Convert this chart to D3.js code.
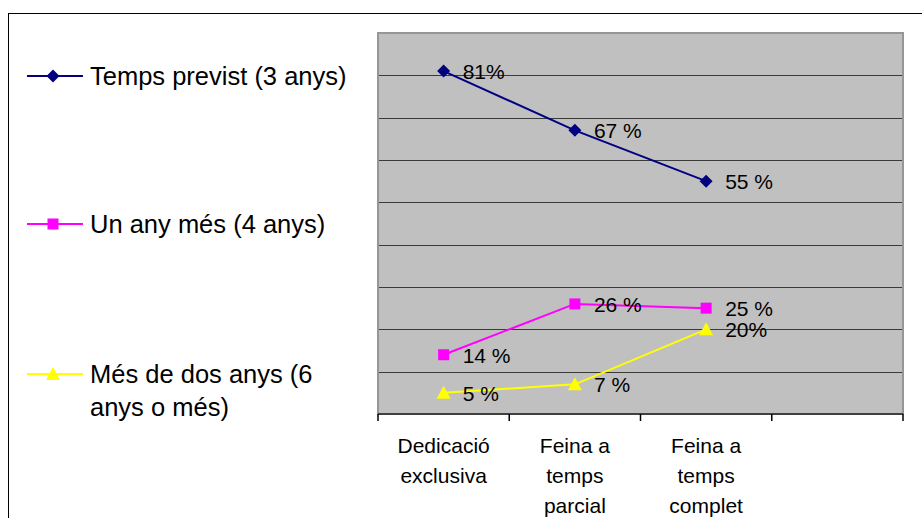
<!DOCTYPE html>
<html>
<head>
<meta charset="utf-8">
<script src="https://cdn.jsdelivr.net/npm/d3@7"></script>
<style>
  body { margin: 0; background: #fff; }
  svg { display: block; font-family: "Liberation Sans", Arial, sans-serif; }
</style>
</head>
<body>
<svg id="chart" width="922" height="518"></svg>
<script>
// categories on the x axis (the 4th slot is empty in the original)
var categories = ["Dedicació exclusiva", "Feina a temps parcial", "Feina a temps complet", ""];
var categoryLines = [["Dedicació", "exclusiva"], ["Feina a", "temps", "parcial"], ["Feina a", "temps", "complet"], []];

var seriesNames = ["Temps previst (3 anys)", "Un any més (4 anys)", "Més de dos anys (6 anys o més)"];
var seriesLegendLines = [["Temps previst (3 anys)"], ["Un any més (4 anys)"], ["Més de dos anys (6", "anys o més)"]];

var previst = [0.81, 0.67, 0.55];
var unAnyMes = [0.14, 0.26, 0.25];
var mesDeDos = [0.05, 0.07, 0.20];

var previstLabels = ["81%", "67 %", "55 %"];
var unAnyMesLabels = ["14 %", "26 %", "25 %"];
var mesDeDosLabels = ["5 %", "7 %", "20%"];

var yTicks = [0.1, 0.2, 0.3, 0.4, 0.5, 0.6, 0.7, 0.8];

var width = 922, height = 518;
var plot = {left: 378, right: 903, top: 33, bottom: 414};

var series = [
  {name: seriesNames[0], values: previst, labels: previstLabels, color: "#000080", marker: "diamond", legendY: 76},
  {name: seriesNames[1], values: unAnyMes, labels: unAnyMesLabels, color: "#ff00ff", marker: "square", legendY: 224},
  {name: seriesNames[2], values: mesDeDos, labels: mesDeDosLabels, color: "#ffff00", marker: "triangle", legendY: 374}
];
series.forEach((s, i) => s.legend = seriesLegendLines[i]);

const svg = d3.select("#chart");

const x = d3.scaleBand().domain(categories.map((c, i) => i)).range([plot.left, plot.right]);
const y = d3.scaleLinear().domain([0, 0.9]).range([plot.bottom, plot.top]);

// outer chart border (runs off the right and bottom of the picture)
svg.append("rect")
  .attr("x", 8.5).attr("y", 13.5)
  .attr("width", 1000).attr("height", 1000)
  .attr("fill", "none").attr("stroke", "#000").attr("stroke-width", 1);

// plot area
svg.append("rect")
  .attr("x", plot.left).attr("y", plot.top)
  .attr("width", plot.right - plot.left).attr("height", plot.bottom - plot.top)
  .attr("fill", "#c0c0c0").attr("stroke", "#969696").attr("stroke-width", 2);

svg.selectAll(".grid")
  .data(yTicks)
  .enter().append("line")
  .attr("class", "grid")
  .attr("x1", plot.left + 1).attr("x2", plot.right - 1)
  .attr("y1", d => Math.round(y(d)) + 0.5).attr("y2", d => Math.round(y(d)) + 0.5)
  .attr("stroke", "#3a3a3a").attr("stroke-width", 1.2);

// category axis
const xAxis = svg.append("g")
  .attr("transform", "translate(0," + plot.bottom + ")");
xAxis.append("line")
  .attr("x1", plot.left).attr("x2", plot.right)
  .attr("stroke", "#404040").attr("stroke-width", 2);
const tickPos = categories.map((c, i) => x(i)).concat([plot.right]);
xAxis.selectAll(".tick")
  .data(tickPos)
  .enter().append("line")
  .attr("x1", d => d).attr("x2", d => d)
  .attr("y1", 0).attr("y2", 7)
  .attr("stroke", "#000").attr("stroke-width", 1.5);

categoryLines.forEach(function (lines, i) {
  xAxis.append("text")
    .attr("text-anchor", "middle")
    .attr("font-size", 21)
    .attr("fill", "#000")
    .selectAll("tspan")
    .data(lines)
    .enter().append("tspan")
    .attr("x", x(i) + x.bandwidth() / 2)
    .attr("y", (d, j) => 39 + j * 30)
    .text(d => d);
});

// excel style markers
function markerPath(type) {
  if (type === "diamond") return "M0,-6.5L6.5,0L0,6.5L-6.5,0Z";
  if (type === "square") return "M-5.5,-5.5H5.5V5.5H-5.5Z";
  return "M0,-7L7,6L-7,6Z";
}

const line = d3.line()
  .x((d, i) => x(i) + x.bandwidth() / 2)
  .y(d => y(d));

series.forEach(function (s) {
  svg.append("path")
    .attr("d", line(s.values))
    .attr("fill", "none")
    .attr("stroke", s.color)
    .attr("stroke-width", 2);

  svg.selectAll(".m-" + s.marker)
    .data(s.values)
    .enter().append("path")
    .attr("class", "m-" + s.marker)
    .attr("transform", (d, i) => "translate(" + (x(i) + x.bandwidth() / 2) + "," + y(d) + ")")
    .attr("d", markerPath(s.marker))
    .attr("fill", s.color);

  svg.selectAll(".lbl-" + s.marker)
    .data(s.values)
    .enter().append("text")
    .attr("class", "lbl-" + s.marker)
    .attr("x", (d, i) => x(i) + x.bandwidth() / 2 + 19)
    .attr("y", d => y(d) + 8)
    .attr("font-size", 21)
    .attr("fill", "#000")
    .text((d, i) => s.labels[i]);

  // legend entry
  const lg = svg.append("g").attr("transform", "translate(0," + s.legendY + ")");
  lg.append("line")
    .attr("x1", 27).attr("x2", 83)
    .attr("stroke", s.color).attr("stroke-width", 2);
  lg.append("path")
    .attr("transform", "translate(53,0)")
    .attr("d", markerPath(s.marker))
    .attr("fill", s.color);
  lg.append("text")
    .attr("font-size", 25.5)
    .attr("fill", "#000")
    .selectAll("tspan")
    .data(s.legend)
    .enter().append("tspan")
    .attr("x", 90)
    .attr("y", (d, j) => 9 + j * 33)
    .text(d => d);
});
</script>
</body>
</html>
